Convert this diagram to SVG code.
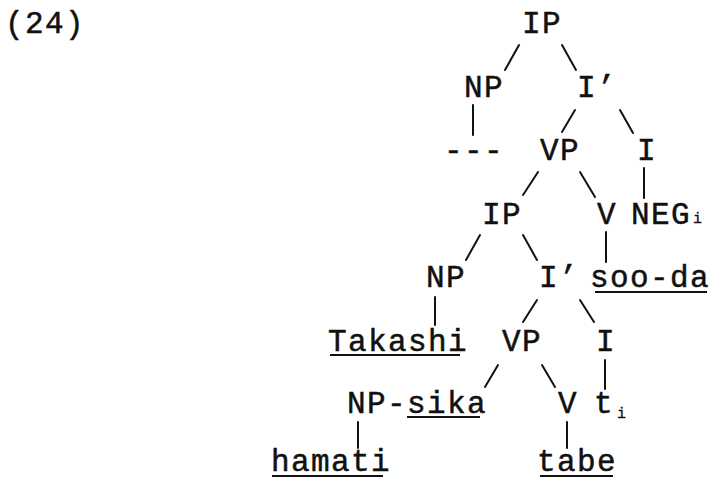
<svg xmlns="http://www.w3.org/2000/svg" width="709" height="480" viewBox="0 0 709 480">
<style>
text{font-family:"Liberation Mono","Courier New",monospace;font-size:31px;letter-spacing:1.4px;fill:#111;stroke:#111;stroke-width:0.5px}
.sub{font-size:15px;letter-spacing:0;stroke-width:0.3px}
.e line{stroke:#111;stroke-width:2;stroke-linecap:round}
.u{stroke:#111;stroke-width:2}
</style>
<rect width="709" height="480" fill="#fff"/>
<text id="label" x="5" y="33">(24)</text>
<g id="n_ip1"><text x="522" y="33">IP</text></g>
<g id="n_np1"><text x="464" y="97">NP</text></g>
<g id="n_ibar1"><text x="577" y="97">I’</text></g>
<g id="n_gap"><text x="444" y="160">---</text></g>
<g id="n_vp1"><text x="540" y="160">VP</text></g>
<g id="n_i1"><text x="637" y="160">I</text></g>
<g id="n_ip2"><text x="482" y="224">IP</text></g>
<g id="n_v1"><text x="597" y="224">V</text></g>
<g id="n_neg"><text x="631" y="224">NEG</text><text class="sub" x="693" y="223">i</text></g>
<g id="n_np2"><text x="426" y="287">NP</text></g>
<g id="n_ibar2"><text x="539" y="287">I’</text></g>
<g id="n_sooda"><text x="590" y="287">soo-da</text><line class="u" x1="595" y1="292" x2="707" y2="292"/></g>
<g id="n_takashi"><text x="328" y="351">Takashi</text><line class="u" x1="330" y1="355" x2="460" y2="355"/></g>
<g id="n_vp2"><text x="502" y="351">VP</text></g>
<g id="n_i2"><text x="596" y="351">I</text></g>
<g id="n_npsika"><text x="347" y="413">NP-sika</text><line class="u" x1="407" y1="417" x2="480" y2="417"/></g>
<g id="n_v2"><text x="558" y="413">V</text></g>
<g id="n_t"><text x="594" y="413">t</text><text class="sub" x="617" y="418">i</text></g>
<g id="n_hamati"><text x="271" y="471">hamati</text><line class="u" x1="272" y1="476" x2="383" y2="476"/></g>
<g id="n_tabe"><text x="537" y="471">tabe</text><line class="u" x1="540" y1="476" x2="613" y2="476"/></g>
<g id="connectors" class="e">
<line x1="519" y1="45" x2="505" y2="70"/>
<line x1="562" y1="45" x2="576" y2="70"/>
<line x1="473" y1="105" x2="473" y2="135"/>
<line x1="575" y1="110" x2="562" y2="132"/>
<line x1="620" y1="110" x2="633" y2="133"/>
<line x1="538" y1="172" x2="523" y2="195"/>
<line x1="580" y1="172" x2="595" y2="197"/>
<line x1="644" y1="168" x2="644" y2="198"/>
<line x1="480" y1="235" x2="466" y2="260"/>
<line x1="523" y1="235" x2="537" y2="260"/>
<line x1="606" y1="232" x2="606" y2="262"/>
<line x1="435" y1="297" x2="435" y2="325"/>
<line x1="537" y1="300" x2="523" y2="322"/>
<line x1="580" y1="300" x2="594" y2="322"/>
<line x1="498" y1="365" x2="485" y2="387"/>
<line x1="542" y1="365" x2="555" y2="387"/>
<line x1="605" y1="360" x2="605" y2="389"/>
<line x1="358" y1="422" x2="358" y2="448"/>
<line x1="567" y1="422" x2="567" y2="448"/>
</g>
</svg>
